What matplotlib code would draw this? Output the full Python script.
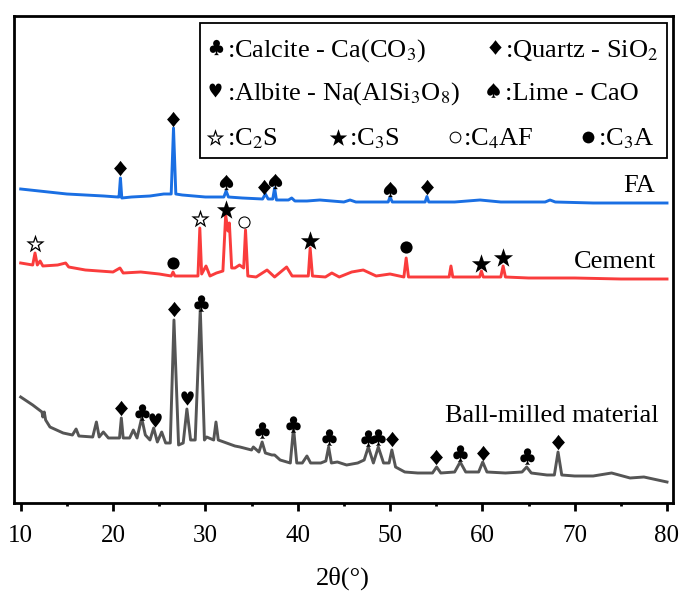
import matplotlib
matplotlib.use("Agg")
import matplotlib.pyplot as plt
from matplotlib.patches import Rectangle

plt.rcParams['font.family'] = ['Liberation Serif', 'DejaVu Sans']
plt.rcParams['mathtext.fontset'] = 'stix'

# ---------------- data (2theta in degrees, intensity in a.u., stacked) ----------------
fa_theta = [10.0, 11.0, 13.0, 15.0, 17.0, 19.0, 20.5, 20.65, 20.8, 20.95, 22.0, 24.0, 25.5, 26.3,
            26.55, 26.8, 27.5, 30.0, 32.0, 32.25, 32.5, 34.0, 36.2, 36.5, 36.8, 37.3, 37.5, 37.7,
            39.0, 39.35, 39.7, 41.0, 42.4, 45.0, 45.67, 46.3, 48.0, 49.8, 50.0, 50.25, 53.8, 54.0,
            54.2, 57.0, 59.75, 62.0, 66.8, 67.33, 67.9, 72.0, 76.0, 80.0]
fa_int = [314, 313, 311, 309, 308, 307, 306, 306, 325, 305, 306, 307, 309, 309,
          375, 309, 308, 306, 306, 312, 306, 305, 304, 309, 304, 304, 315, 303,
          303, 305, 302, 302, 303, 301, 303, 301, 301, 301, 306, 301, 301, 306.5,
          301, 301, 303, 301, 301, 303, 301, 300, 300, 300]

cem_theta = [10.0, 11.3, 11.55, 11.8, 12.1, 12.4, 14.0, 14.87, 15.2, 17.0, 20.0, 20.75, 21.1, 23.0,
             25.0, 26.3, 26.5, 26.7, 28.0, 29.2, 29.4, 29.6, 30.07, 30.5, 31.2, 31.9, 32.2, 32.45,
             32.6, 32.85, 33.2, 33.7, 34.15, 34.35, 34.6, 35.5, 36.68, 37.5, 38.8, 39.4, 41.15,
             41.35, 41.6, 43.0, 43.7, 44.5, 45.85, 47.1, 48.5, 50.0, 51.5, 51.75, 52.0, 54.0,
             56.4, 56.6, 56.8, 59.7, 59.9, 60.1, 62.0, 62.25, 62.5, 65.0, 70.0, 75.0, 80.0]
cem_int = [240, 238, 250, 238, 242, 237, 238, 240, 236, 233, 231, 235, 230, 231,
           229, 227, 231, 227, 227, 227, 275, 229, 237, 227, 230, 232, 288, 272,
           280, 235, 235, 238, 235, 273, 227, 226, 233, 226, 236, 227, 227,
           255, 227, 226, 230, 226, 231, 233, 227, 229, 226, 245, 226, 226,
           226, 237, 226, 226, 232, 226, 226, 237, 226, 225, 225, 224, 224]

bm_theta = [10.0, 11.3, 12.3, 12.4, 12.55, 12.7, 13.17, 14.6, 15.6, 16.0, 16.3, 17.8, 18.2, 18.5,
            18.95, 19.5, 20.7, 20.9, 21.1, 21.8, 22.2, 22.6, 23.1, 23.5, 24.0, 24.4, 24.8, 25.27,
            25.7, 26.2, 26.6, 27.1, 27.6, 28.0, 28.4, 28.9, 29.45, 29.9, 30.14, 30.9, 31.15, 31.4,
            32.3, 33.2, 33.75, 35.0, 35.2, 35.8, 36.15, 36.5, 37.2, 37.5, 38.1, 39.2, 39.55, 39.9,
            40.5, 41.0, 41.4, 42.5, 43.05, 43.35, 43.65, 44.3, 45.3, 46.5, 47.2, 47.65, 48.2,
            48.73, 49.3, 49.9, 50.2, 50.6, 51.6, 53.0, 54.6, 55.05, 55.5, 57.0, 57.6, 58.2,
            59.6, 60.04, 60.5, 62.5, 64.3, 64.8, 65.3, 67.0, 67.8, 68.2, 68.6, 70.0, 72.0,
            74.0, 76.0, 77.5, 80.0]
bm_int = [106, 98, 91, 86, 91, 83, 76, 70, 68, 74, 67, 66, 81, 66,
          71, 65, 65, 85, 65, 65, 73, 65, 85, 68, 63, 75, 61, 71,
          60, 60, 183, 58, 60, 94, 63, 63, 194, 63, 66, 63, 81, 63,
          60, 57, 56, 53, 56, 51, 61, 50, 48, 48, 43, 40, 75, 40,
          40, 47, 40, 40, 42, 56, 40, 41, 38, 40, 43, 56, 40,
          56, 40, 40, 53, 36, 31, 30, 30, 36, 30, 31, 41, 31,
          31, 41, 31, 30, 31, 36, 30, 28, 28, 51, 28, 27, 27,
          30, 25, 26, 21]

# phase markers: (2theta, height, symbol)
fa_mark_theta = [20.8, 26.5, 32.2, 36.4, 37.5, 50.0, 54.0]
fa_mark_int = [334.7, 384, 321, 315.7, 322, 313.7, 315.7]
fa_mark_sym = ['♦', '♦', '♠', '♦', '♠', '♠', '♦']

cem_mark_theta = [11.5, 26.5, 29.4, 32.2, 34.2, 41.35, 51.75, 59.9, 62.25]
cem_mark_int = [260, 240, 285, 294.5, 281, 263, 255.7, 240.3, 245.7]
cem_mark_sym = ['☆', '●', '☆', '★', '○', '★', '●', '★', '★']

bm_mark_theta = [20.9, 23.1, 24.5, 26.6, 28.0, 29.5, 36.1, 39.5, 43.4, 47.65, 48.75, 50.2,
                 55.0, 57.6, 60.05, 64.8, 68.2]
bm_mark_int = [95.3, 91.3, 83, 193.7, 104.7, 200.3, 73, 79, 65.7, 64.7, 65.7, 63.7,
               45.7, 49.7, 50.3, 47, 61.3]
bm_mark_sym = ['♦', '♣', '♥', '♦', '♥', '♣', '♣', '♣', '♣', '♣', '♣', '♦',
               '♦', '♣', '♦', '♣', '♦']

series_names = ['FA', 'Cement', 'Ball-milled material']

legend_syms = ['♣', '♦', '♥', '♠', '☆', '★', '○', '●']
legend_labels = [r':Calcite - Ca(CO$_3$)', r':Quartz - SiO$_2$',
                 r':Albite - Na(AlSi$_3$O$_8$)', r':Lime - CaO',
                 r':C$_2$S', r':C$_3$S', r':C$_4$AF', r':C$_3$A']

xticks = [10, 20, 30, 40, 50, 60, 70, 80]

# ---------------- styling ----------------
sym_size = {'♦': 11.0, '♣': 11.8, '♥': 10.3, '♠': 11.0, '☆': 13.2, '★': 13.8, '○': 8.8, '●': 8.8}
leg_size = {'♦': 10.5, '♣': 11.0, '♥': 10.0, '♠': 10.5, '☆': 12.5, '★': 12.5, '○': 8.5, '●': 8.5}

W, H = 692, 599
fig = plt.figure(figsize=(W / 100, H / 100), dpi=100)
L, R, T, B = 13.5, 673.0, 16.0, 503.0
ax = fig.add_axes([L / W, 1 - B / H, (R - L) / W, (B - T) / H])

ax.plot(fa_theta, fa_int, color='#1a6fe3', lw=2.1, zorder=3)
ax.plot(cem_theta, cem_int, color='#fa3c3c', lw=2.1, zorder=3)
ax.plot(bm_theta, bm_int, color='#555555', lw=2.1, zorder=3)

def draw_marks(th, yy, ss):
    for t, y, s in zip(th, yy, ss):
        ax.plot([t], [y], linestyle='none', marker='$' + s + '$', ms=sym_size[s],
                color='black', mew=0, zorder=5)

draw_marks(fa_mark_theta, fa_mark_int, fa_mark_sym)
draw_marks(cem_mark_theta, cem_mark_int, cem_mark_sym)
draw_marks(bm_mark_theta, bm_mark_int, bm_mark_sym)

ax.set_xlim(9.22, 80.65)
ax.set_ylim(0, 487)

def axx(px):
    return (px - L) / (R - L)

def axy(py):
    return (B - py) / (B - T)

# series labels
label_pos = [(655, 192), (656, 268), (659, 422)]
for name, (px, py) in zip(series_names, label_pos):
    ax.text(axx(px), axy(py), name, transform=ax.transAxes, ha='right', va='baseline',
            fontsize=19, family='Liberation Serif', zorder=6)

# legend box
ax.add_patch(Rectangle((axx(200), axy(158)), axx(667) - axx(200), axy(23) - axy(158),
                       transform=ax.transAxes, fill=True, facecolor='white', edgecolor='black',
                       lw=1.3, zorder=7, clip_on=False))
sym_pos = [(216, 47), (495, 47), (215, 90), (493, 90), (215, 137), (338, 137), (455, 137), (588, 137)]
txt_pos = [(227, 57), (505, 57), (227, 100), (505, 100), (227, 145), (349, 145), (463, 145), (598, 145)]
for s, lab, (sx, sy), (tx, ty) in zip(legend_syms, legend_labels, sym_pos, txt_pos):
    ax.plot([axx(sx)], [axy(sy)], transform=ax.transAxes, linestyle='none', marker='$' + s + '$',
            ms=leg_size[s], color='black', mew=0, zorder=8, clip_on=False)
    ax.text(axx(tx), axy(ty), lab, transform=ax.transAxes, ha='left', va='baseline',
            fontsize=19, family='Liberation Serif', zorder=8)

# axes styling
for sp in ax.spines.values():
    sp.set_linewidth(2.0)
ax.set_yticks([])
ax.set_xticks(xticks)
ax.set_xticklabels([str(v) for v in xticks])
ax.set_xticks([15, 25, 35, 45, 55, 65, 75], minor=True)
ax.tick_params(axis='x', which='major', direction='out', length=6, width=2.0, labelsize=18, pad=10)
ax.tick_params(axis='x', which='minor', direction='out', length=2.5, width=2.0)
ax.set_xlabel('2θ(°)', fontsize=19, labelpad=14)

fig.savefig('out.png', dpi=100)
